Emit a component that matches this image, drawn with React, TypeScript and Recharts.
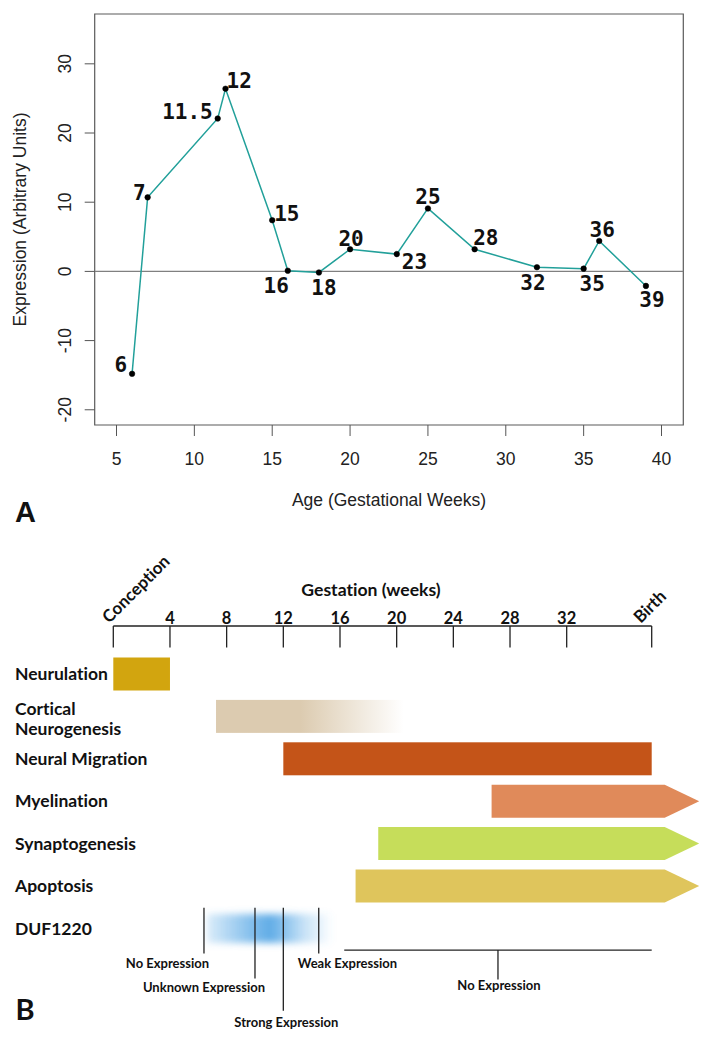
import React from 'react';
import {
  LineChart,
  Line,
  XAxis,
  YAxis,
  ReferenceLine,
  ReferenceArea,
  ReferenceDot,
  LabelList,
  BarChart,
  Bar,
} from 'recharts';

// ---------------- Panel A data ----------------
const gestationalWeeks = [6, 7, 11.5, 12, 15, 16, 18, 20, 23, 25, 28, 32, 35, 36, 39];
const expressionValues = [-14.8, 10.7, 22.1, 26.4, 7.4, 0.1, -0.15, 3.2, 2.5, 9.1, 3.2, 0.6, 0.4, 4.4, -2.1];
const pointLabels = ['6', '7', '11.5', '12', '15', '16', '18', '20', '23', '25', '28', '32', '35', '36', '39'];
const xTicksA = [5, 10, 15, 20, 25, 30, 35, 40];
const yTicksA = [-20, -10, 0, 10, 20, 30];
const xDomainA = [3.6, 41.4];
const yDomainA = [-22.2, 37.2];
const xTitleA = 'Age (Gestational Weeks)';
const yTitleA = 'Expression (Arbitrary Units)';

// ---------------- Panel B data ----------------
const processNames = [
  'Neurulation',
  'Cortical Neurogenesis',
  'Neural Migration',
  'Myelination',
  'Synaptogenesis',
  'Apoptosis',
  'DUF1220',
];
const processStart = [0, 7.25, 12, 26.7, 18.7, 17.1, 6.6];
const processEnd = [4, 20.5, 38, 38, 38, 38, 15.5];
const continuesPastBirth = [false, false, false, true, true, true, false];
const timelineTicks = [0, 4, 8, 12, 16, 20, 24, 28, 32, 38];
const timelineTickLabels = ['Conception', '4', '8', '12', '16', '20', '24', '28', '32', 'Birth'];
const timelineDomain = [0, 38];
const timelineTitle = 'Gestation (weeks)';
const markerWeeks = [6.4, 10, 12, 14.5];
const markerLabels = ['No Expression', 'Unknown Expression', 'Strong Expression', 'Weak Expression'];
const noExpressionSpan = [16.3, 38];
const noExpressionLabel = 'No Expression';
const markerRow = 'DUF1220';

// ---------------- Styles ----------------
const SANS_A = '"Liberation Sans", Arial, sans-serif';
const MONO = '"DejaVu Sans Mono", monospace';
const SANS_B = 'Lato, "Noto Sans", sans-serif';
const NO_LIG = { fontVariantLigatures: 'none' as const };

const POINT_LABEL_STYLE: Record<string, { dx: number; dy: number; anchor: 'start' | 'middle' | 'end' }> = {
  '6': { dx: -5, dy: -2, anchor: 'end' },
  '7': { dx: -2, dy: 3, anchor: 'end' },
  '11.5': { dx: -5, dy: 0.5, anchor: 'end' },
  '12': { dx: 1, dy: -1, anchor: 'start' },
  '15': { dx: 2, dy: 1, anchor: 'start' },
  '16': { dx: 1, dy: 22, anchor: 'end' },
  '18': { dx: 5, dy: 22.5, anchor: 'middle' },
  '20': { dx: 1, dy: -3, anchor: 'middle' },
  '23': { dx: 5, dy: 14.5, anchor: 'start' },
  '25': { dx: 0, dy: -4.5, anchor: 'middle' },
  '28': { dx: -1.5, dy: -4.5, anchor: 'start' },
  '32': { dx: -4, dy: 23, anchor: 'middle' },
  '35': { dx: 8.5, dy: 22, anchor: 'middle' },
  '36': { dx: 3, dy: -3.5, anchor: 'middle' },
  '39': { dx: 6, dy: 21, anchor: 'middle' },
};

const PROCESS_STYLE: Record<string, { fill: string; effect?: 'fade' | 'glow' }> = {
  Neurulation: { fill: '#d2a50f' },
  'Cortical Neurogenesis': { fill: '#dccbb0', effect: 'fade' },
  'Neural Migration': { fill: '#c45418' },
  Myelination: { fill: '#e08a5a' },
  Synaptogenesis: { fill: '#c6dd5a' },
  Apoptosis: { fill: '#dfc55c' },
  DUF1220: { fill: '#4ea3e4', effect: 'glow' },
};

const ARROW = { bodyExtension: 13, head: 34.5 };

const MARKER_STYLE = [
  { top: -20.3, bottom: 25.3, labelDx: -36.5, labelDy: 40.3 },
  { top: -20.3, bottom: 50.3, labelDx: -51, labelDy: 63.7 },
  { top: -20.3, bottom: 82.7, labelDx: 3, labelDy: 99.3 },
  { top: -20.3, bottom: 25.3, labelDx: 28.7, labelDy: 40.3 },
];

const BRACKET_STYLE = { offset: 22, tickDown: 29.3, labelDy: 62, labelDx: 1 };

// ---------------- Derived tables ----------------
const lineData = gestationalWeeks.map((w, i) => ({
  week: w,
  expression: expressionValues[i],
  label: pointLabels[i],
}));

const processData = processNames.map((name, i) => ({
  name,
  range: [processStart[i], processEnd[i]],
  continues: continuesPastBirth[i],
}));

// ---------------- Panel A helpers ----------------
const renderPointLabel = (props: any) => {
  const x = props.x ?? props.viewBox?.x;
  const y = props.y ?? props.viewBox?.y;
  const value = String(props.value);
  const st = POINT_LABEL_STYLE[value] || { dx: 0, dy: -6, anchor: 'middle' };
  return (
    <text
      x={x + st.dx}
      y={y + st.dy}
      textAnchor={st.anchor}
      fontFamily={MONO}
      fontWeight="bold"
      fontSize={21}
      fill="#111"
    >
      {value}
    </text>
  );
};

const RotatedYTick = (props: any) => {
  const { x, y, payload } = props;
  return (
    <text
      x={x}
      y={y}
      transform={`rotate(-90 ${x} ${y})`}
      textAnchor="middle"
      fontFamily={SANS_A}
      fontSize={17.5}
      fill="#222"
    >
      {payload.value}
    </text>
  );
};

const XTitleA = (props: any) => {
  const vb = props.viewBox || {};
  return (
    <text
      x={vb.x + vb.width / 2}
      y={vb.y + 81}
      textAnchor="middle"
      fontFamily={SANS_A}
      fontSize={17.5}
      fill="#222"
    >
      {xTitleA}
    </text>
  );
};

const YTitleA = (props: any) => {
  const vb = props.viewBox || {};
  const x = vb.x + 26.3;
  const y = vb.y + vb.height / 2;
  return (
    <text
      x={x}
      y={y}
      transform={`rotate(-90 ${x} ${y})`}
      textAnchor="middle"
      fontFamily={SANS_A}
      fontSize={17.5}
      fill="#222"
    >
      {yTitleA}
    </text>
  );
};

// ---------------- Panel B helpers ----------------
const TimelineTick = (props: any) => {
  const { x, y, payload, index } = props;
  const idx = index ?? timelineTicks.indexOf(payload.value);
  const label = timelineTickLabels[idx] ?? String(payload.value);
  const isRotated = label === 'Conception' || label === 'Birth';
  const lx = label === 'Birth' ? x - 11 : x - 4;
  return (
    <g>
      <line x1={x} y1={y} x2={x} y2={y + 21.5} stroke="#222" strokeWidth={1.3} />
      {isRotated ? (
        <text
          x={lx}
          y={y - 2}
          transform={`rotate(-45 ${lx} ${y - 2})`}
          textAnchor="start"
          fontFamily={SANS_B}
          fontWeight="bold"
          fontSize={17}
          fill="#111"
          style={NO_LIG}
        >
          {label}
        </text>
      ) : (
        <text
          x={x}
          y={y - 2}
          textAnchor="middle"
          fontFamily={SANS_B}
          fontWeight="bold"
          fontSize={16.5}
          fill="#111"
        >
          {label}
        </text>
      )}
    </g>
  );
};

const ProcessTick = (props: any) => {
  const { x, y, payload } = props;
  const name: string = payload.value;
  const common = {
    fontFamily: SANS_B,
    fontWeight: 'bold' as const,
    fontSize: 17.5,
    fill: '#111',
    textAnchor: 'start' as const,
    style: NO_LIG,
  };
  if (name === 'Cortical Neurogenesis') {
    return (
      <text x={x} y={y} {...common}>
        <tspan x={x} y={y - 1}>Cortical</tspan>
        <tspan x={x} y={y + 19}>Neurogenesis</tspan>
      </text>
    );
  }
  return (
    <text x={x} y={y + 6.5} {...common}>
      {name}
    </text>
  );
};

const TimelineTitle = (props: any) => {
  const vb = props.viewBox || {};
  return (
    <text
      x={vb.x + vb.width / 2 - 11.5}
      y={vb.y + 30}
      textAnchor="middle"
      fontFamily={SANS_B}
      fontWeight="bold"
      fontSize={17.6}
      fill="#111"
      style={NO_LIG}
    >
      {timelineTitle}
    </text>
  );
};

const ProcessShape = (props: any) => {
  const { x, y, width, height, payload } = props;
  const name: string = payload.name;
  const st = PROCESS_STYLE[name];
  if (st.effect === 'fade') {
    return (
      <g>
        <defs>
          <linearGradient id="fadeGrad" x1="0" y1="0" x2="1" y2="0">
            <stop offset="0" stopColor={st.fill} />
            <stop offset="0.45" stopColor={st.fill} />
            <stop offset="1" stopColor={st.fill} stopOpacity={0} />
          </linearGradient>
        </defs>
        <rect x={x} y={y} width={width} height={height} fill="url(#fadeGrad)" />
      </g>
    );
  }
  if (st.effect === 'glow') {
    return (
      <g>
        <defs>
          <linearGradient id="glowGrad" x1="0" y1="0" x2="1" y2="0">
            <stop offset="0" stopColor={st.fill} stopOpacity={0.2} />
            <stop offset="0.5" stopColor={st.fill} stopOpacity={0.9} />
            <stop offset="0.78" stopColor={st.fill} stopOpacity={0.3} />
            <stop offset="1" stopColor={st.fill} stopOpacity={0} />
          </linearGradient>
          <filter id="glowBlur" x="-10%" y="-60%" width="120%" height="220%">
            <feGaussianBlur stdDeviation="3 3.5" />
          </filter>
        </defs>
        <rect
          x={x}
          y={y + 2}
          width={width}
          height={height - 4}
          fill="url(#glowGrad)"
          filter="url(#glowBlur)"
        />
      </g>
    );
  }
  if (payload.continues) {
    const bodyEnd = x + width + ARROW.bodyExtension;
    const tip = bodyEnd + ARROW.head;
    const pts = [
      [x, y],
      [bodyEnd, y],
      [tip, y + height / 2],
      [bodyEnd, y + height],
      [x, y + height],
    ]
      .map((p) => p.join(','))
      .join(' ');
    return <polygon points={pts} fill={st.fill} />;
  }
  return <rect x={x} y={y} width={width} height={height} fill={st.fill} />;
};

const makeMarkerShape = (i: number) => (props: any) => {
  const { cx, cy } = props;
  const st = MARKER_STYLE[i];
  return (
    <g>
      <line x1={cx} y1={cy + st.top} x2={cx} y2={cy + st.bottom} stroke="#222" strokeWidth={1.3} />
      <text
        x={cx + st.labelDx}
        y={cy + st.labelDy}
        textAnchor="middle"
        fontFamily={SANS_B}
        fontWeight="bold"
        fontSize={13}
        fill="#111"
        style={NO_LIG}
      >
        {markerLabels[i]}
      </text>
    </g>
  );
};

const BracketShape = (props: any) => {
  const { x1, y1, x2 } = props;
  const yy = y1 + BRACKET_STYLE.offset;
  const mid = (x1 + x2) / 2;
  return (
    <g>
      <line x1={x1} y1={yy} x2={x2} y2={yy} stroke="#222" strokeWidth={1.3} />
      <line x1={mid} y1={yy} x2={mid} y2={yy + BRACKET_STYLE.tickDown} stroke="#222" strokeWidth={1.3} />
      <text
        x={mid + BRACKET_STYLE.labelDx}
        y={y1 + BRACKET_STYLE.labelDy}
        textAnchor="middle"
        fontFamily={SANS_B}
        fontWeight="bold"
        fontSize={13}
        fill="#111"
        style={NO_LIG}
      >
        {noExpressionLabel}
      </text>
    </g>
  );
};

export default function App() {
  return (
    <div
      style={{
        position: 'absolute',
        left: 0,
        top: 0,
        width: 714,
        height: 1044,
        background: '#fff',
        fontFamily: SANS_A,
      }}
    >
      <div style={{ position: 'absolute', left: 0, top: 0 }}>
        <LineChart
          width={714}
          height={530}
          data={lineData}
          margin={{ top: 14, right: 30.7, bottom: 0, left: 0 }}
        >
          <XAxis
            type="number"
            dataKey="week"
            domain={xDomainA}
            ticks={xTicksA}
            allowDataOverflow
            interval={0}
            height={105}
            axisLine={false}
            tickLine={{ stroke: '#555' }}
            tickSize={11}
            tickMargin={16.6}
            tick={{ fill: '#222', fontSize: 17.5, fontFamily: SANS_A }}
            label={XTitleA}
          />
          <YAxis
            type="number"
            domain={yDomainA}
            ticks={yTicksA}
            allowDataOverflow
            interval={0}
            width={94.7}
            axisLine={false}
            tickLine={{ stroke: '#555' }}
            tickSize={10}
            tickMargin={13.2}
            tick={<RotatedYTick />}
            label={YTitleA}
          />
          <ReferenceArea
            x1={xDomainA[0]}
            x2={xDomainA[1]}
            y1={yDomainA[0]}
            y2={yDomainA[1]}
            fill="none"
            fillOpacity={0}
            stroke="#5a5a5a"
            strokeWidth={1.2}
            ifOverflow="visible"
          />
          <ReferenceLine y={0} stroke="#808080" strokeWidth={1.4} />
          <Line
            type="linear"
            dataKey="expression"
            stroke="#22a09a"
            strokeWidth={1.5}
            dot={{ r: 2.8, fill: '#000', stroke: '#000', strokeWidth: 0.5 }}
            activeDot={false}
            isAnimationActive={false}
          >
            <LabelList dataKey="label" content={renderPointLabel} />
          </Line>
        </LineChart>
      </div>

      <div style={{ position: 'absolute', left: 0, top: 530 }}>
        <BarChart
          width={714}
          height={514}
          data={processData}
          layout="vertical"
          margin={{ top: 36, right: 62.3, bottom: 94.7, left: 0 }}
        >
          <XAxis
            type="number"
            orientation="top"
            domain={timelineDomain}
            ticks={timelineTicks}
            interval={0}
            height={60}
            axisLine={{ stroke: '#222', strokeWidth: 1.3 }}
            tickLine={false}
            tickSize={0}
            tickMargin={0}
            tick={<TimelineTick />}
            label={TimelineTitle}
          />
          <YAxis
            type="category"
            dataKey="name"
            width={113.3}
            padding={{ top: 26.5, bottom: 0 }}
            axisLine={false}
            tickLine={false}
            tickSize={0}
            tickMargin={98.3}
            interval={0}
            tick={<ProcessTick />}
          />
          <Bar
            dataKey="range"
            barSize={33}
            shape={ProcessShape}
            isAnimationActive={false}
          />
          {markerWeeks.map((w, i) => (
            <ReferenceDot
              key={`m${i}`}
              x={w}
              y={markerRow}
              r={0}
              ifOverflow="visible"
              shape={makeMarkerShape(i)}
            />
          ))}
          <ReferenceLine
            segment={[
              { x: noExpressionSpan[0], y: markerRow },
              { x: noExpressionSpan[1], y: markerRow },
            ]}
            ifOverflow="visible"
            shape={BracketShape}
          />
        </BarChart>
      </div>

      <svg
        width={714}
        height={1044}
        style={{ position: 'absolute', left: 0, top: 0, pointerEvents: 'none' }}
      >
        <text x={15} y={521.7} fontFamily={SANS_A} fontWeight="bold" fontSize={29} fill="#111">
          A
        </text>
        <text x={15.5} y={1020} fontFamily={SANS_B} fontWeight="bold" fontSize={29} fill="#111">
          B
        </text>
      </svg>
    </div>
  );
}
